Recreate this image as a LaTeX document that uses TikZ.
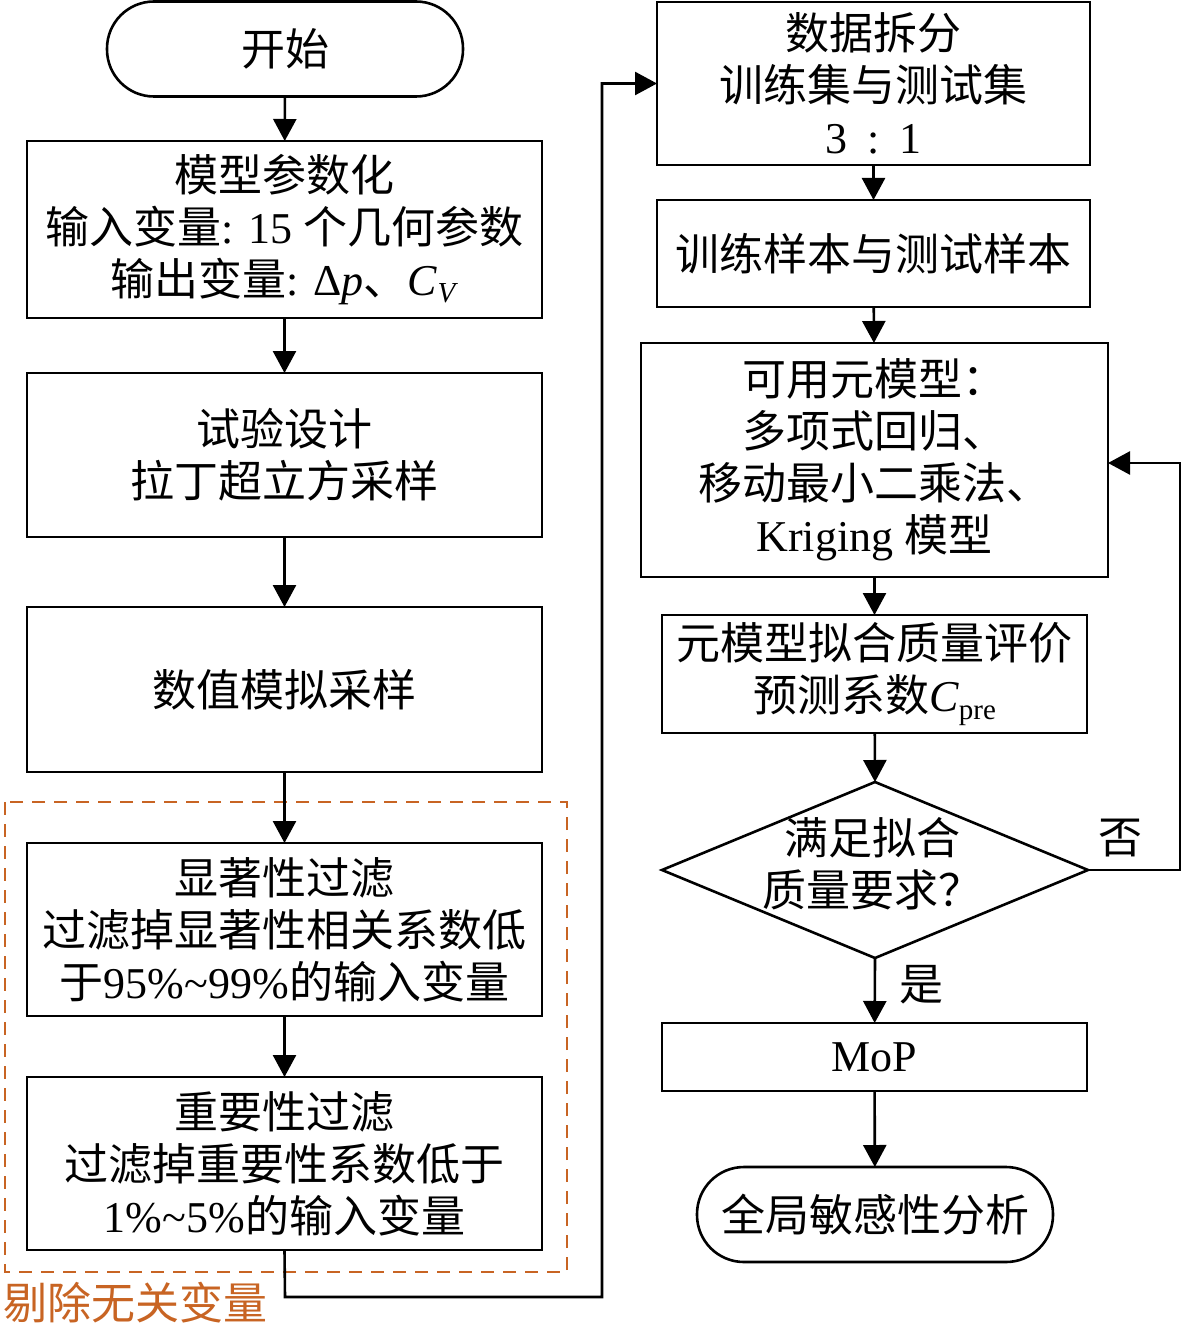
\documentclass[tikz,border=0pt]{standalone}
\usepackage{fontspec}
\setmainfont{Liberation Serif}
\newfontfamily\cjk{Noto Sans CJK SC}
\usetikzlibrary{arrows.meta}
\definecolor{myorange}{RGB}{200,100,35}
\newcommand\zh[1]{{\cjk #1}}
\newcommand\subx[1]{\raisebox{-0.35ex}{\fontsize{29}{29}\selectfont #1}}
\begin{document}
\begin{tikzpicture}[x=1pt,y=-1pt,
  every node/.style={inner sep=0pt, outer sep=0pt, font=\fontsize{44}{52}\selectfont, align=center},
  box/.style={draw, line width=2.6pt},
  term/.style={draw, line width=2.6pt, rounded corners=47pt, minimum width=356pt, minimum height=95pt},
  arr/.style={-{Triangle[length=22pt,width=23pt]}, line width=2.6pt},
  ln/.style={line width=2.6pt}]
\useasboundingbox (0,0) rectangle (1181,1332);

% left column
\node[term] (start) at (285,49) {\zh{开始}};
\node[box, minimum width=515pt, minimum height=177pt] (b1) at (284.5,229.5)
  {\zh{模型参数化}\\ \zh{输入变量}: 15 \zh{个几何参数}\\ \zh{输出变量}: Δ\textit{p}\zh{、}\textit{C}\subx{\textit{V}}};
\node[box, minimum width=515pt, minimum height=164pt] (b2) at (284.5,455)
  {\zh{试验设计}\\ \zh{拉丁超立方采样}};
\node[box, minimum width=515pt, minimum height=165pt] (b3) at (284.5,689.5)
  {\zh{数值模拟采样}};
\node[box, minimum width=515pt, minimum height=173pt] (b4) at (284.5,929.5)
  {\zh{显著性过滤}\\ \zh{过滤掉显著性相关系数低}\\ \zh{于}95\%\textasciitilde99\%\zh{的输入变量}};
\node[box, minimum width=515pt, minimum height=173pt] (b5) at (284.5,1163.5)
  {\zh{重要性过滤}\\ \zh{过滤掉重要性系数低于}\\ 1\%\textasciitilde5\%\zh{的输入变量}};
\draw[myorange, line width=2pt, dash pattern=on 13pt off 9pt] (5,802) rectangle (567,1272);
\node[anchor=west, text=myorange] (lbl) at (3,1303) {\zh{剔除无关变量}};

% right column
\node[box, minimum width=433pt, minimum height=163pt] (r1) at (873.5,83.5)
  {\zh{数据拆分}\\ \zh{训练集与测试集}\\ 3\hspace{0.45em}:\hspace{0.45em}1};
\node[box, minimum width=433pt, minimum height=107pt] (r2) at (873.5,253.5)
  {\zh{训练样本与测试样本}};
\node[box, minimum width=467pt, minimum height=234pt] (r3) at (874.5,460)
  {\zh{可用元模型：}\\ \zh{多项式回归、}\\ \zh{移动最小二乘法、}\\ Kriging \zh{模型}};
\node[box, minimum width=425pt, minimum height=118pt] (r4) at (874.5,674)
  {\zh{元模型拟合质量评价}\\ \zh{预测系数}\textit{C}\subx{pre}};
\coordinate (dt) at (875,782);
\coordinate (dl) at (662,870);
\coordinate (dr) at (1088,870);
\coordinate (db) at (875,958);
\draw[ln, line join=miter] (dt) -- (dr) -- (db) -- (dl) -- cycle;
\node (dtext) at (872,864) {\zh{满足拟合}\\ \zh{质量要求？}};
\node[box, minimum width=425pt, minimum height=68pt] (mop) at (874.5,1057) {MoP};
\node[term] (end) at (875,1214.5) {\zh{全局敏感性分析}};
\node (no) at (1120,838) {\zh{否}};
\node (yes) at (921,985) {\zh{是}};

% connectors
\draw[arr] (start) -- (b1);
\draw[arr] (b1) -- (b2);
\draw[arr] (b2) -- (b3);
\draw[arr] (b3) -- (b4);
\draw[arr] (b4) -- (b5);
\coordinate (c1) at (285,1297);
\coordinate (c2) at (602,1297);
\coordinate (c3) at (602,83.5);
\draw[arr, line join=miter] (b5.south) -- (c1) -- (c2) -- (c3) -- (r1.west);
\draw[arr] (r1) -- (r2);
\draw[arr] (r2) -- (r3);
\draw[arr] (r3) -- (r4);
\draw[arr] (r4) -- (dt);
\draw[arr] (db) -- (mop);
\draw[arr] (mop) -- (end);
\coordinate (f1) at (1180,870);
\coordinate (f2) at (1180,463);
\draw[arr, line join=miter] (dr) -- (f1) -- (f2) -- (r3.east |- f2);
\end{tikzpicture}
\end{document}
